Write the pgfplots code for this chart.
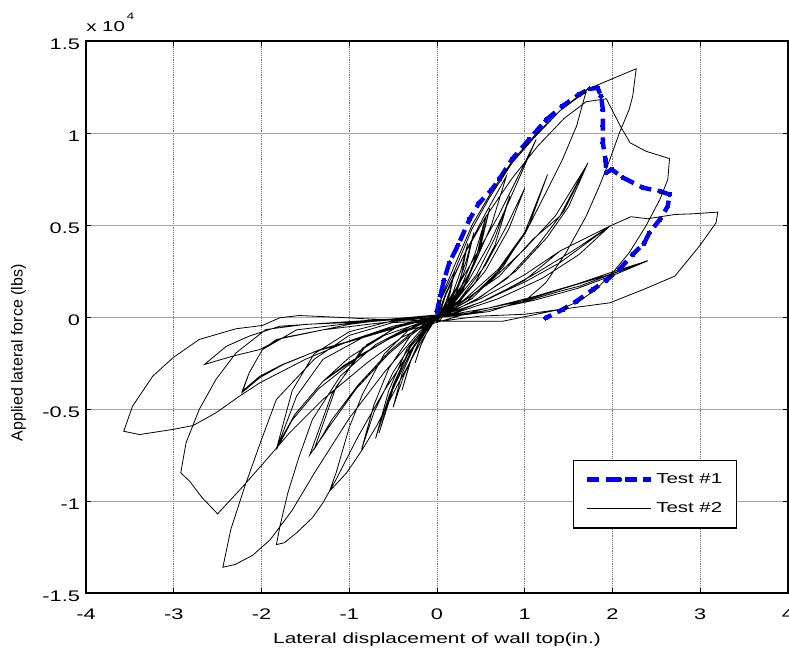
\documentclass[border=0pt]{standalone}
\usepackage{pgfplots}
\pgfplotsset{compat=1.18}
\usepackage{fontspec}
\setmainfont{Liberation Sans}[FakeStretch=1.42]
\newfontfamily\ylabfont{Liberation Sans}
\newcommand\tickfont{\fontsize{11.5}{13}\selectfont}
\newcommand\legfont{\fontsize{10.8}{12}\selectfont}
\definecolor{mblue}{RGB}{0,0,255}

\begin{document}
\begin{tikzpicture}
\begin{axis}[
    scale only axis,
    width=526.5pt, height=414pt,
    xmin=-4, xmax=4, ymin=-15000, ymax=15000,
    xtick={-4,-3,-2,-1,0,1,2,3,4},
    xticklabels={-4,-3,-2,-1,0,1,2,3,4},
    ytick={-15000,-10000,-5000,0,5000,10000,15000},
    yticklabels={-1.5,-1,-0.5,0,0.5,1,1.5},
    scaled y ticks=false,
    tick align=inside,
    major tick length=4pt,
    tick style={black, line width=0.6pt},
    axis line style={black, line width=0.9pt},
    grid=major,
    x grid style={black!55, densely dotted, line width=0.5pt},
    y grid style={black!35, line width=0.6pt},
    tick label style={font=\tickfont},
    xticklabel style={yshift=-8.5pt},
    yticklabel style={yshift=-2.5pt, xshift=-1pt},
    xlabel={Lateral displacement of wall top(in.)},
    ylabel={Applied lateral force (lbs)},
    every axis x label/.style={at={(axis description cs:0.5,0)}, anchor=north, yshift=-30pt, inner sep=0pt, font=\fontsize{11}{13}\selectfont},
    every axis y label/.style={at={(axis description cs:-0.085,0.435)}, rotate=90, anchor=south, inner sep=0pt, font=\ylabfont\fontsize{12}{14}\selectfont},
    legend style={at={(axis cs:3.424,-7745)}, anchor=north east, draw=black, line width=0.8pt, fill=white,
        inner xsep=9pt, inner ysep=8pt, row sep=9pt, font=\legfont, cells={anchor=west}},
    legend image code/.code={\draw[mark repeat=2,mark phase=2,#1] plot coordinates {(0pt,0pt) (24pt,0pt) (48pt,0pt)};},
]

% Test #1 (backbone)
\addplot[mblue, line width=3.3pt, dash pattern=on 9pt off 5pt, mark=*, mark size=1.6pt,
    mark options={solid, fill=mblue, draw=mblue, line width=0pt}] coordinates {
(0.00,300) (0.04,1200) (0.08,2000) (0.14,2950) (0.24,3900) (0.37,5300) (0.48,6200)
(0.62,6900) (0.71,7500) (0.86,8600) (1.05,9650) (1.24,10700) (1.43,11460) (1.62,12100)
(1.74,12400) (1.83,12450) (1.87,12000) (1.89,11280) (1.89,10400) (1.89,9470) (1.92,8560)
(1.93,7840) (1.99,8020) (2.12,7570) (2.35,7020) (2.54,6840) (2.65,6660) (2.63,6020)
(2.54,5300) (2.42,4580) (2.36,4000) (2.23,3400) (2.08,2600) (1.93,2000) (1.78,1500)
(1.59,860) (1.43,400) (1.24,-50)
};
\addlegendentry{Test \#1}

% Test #2 (cyclic)
\addplot[black, line width=0.6pt, mark=none] coordinates {
(0,0) (0.05,300) (0.10,800) (0.15,1500) (0.20,2500) (0.15,1300) (0.10,600) (0.03,100) (-0.05,-300) (-0.12,-900) (-0.19,-1600) (-0.25,-2500) (-0.18,-1500) (-0.10,-700) (0,0)
(0.08,500) (0.18,1300) (0.27,2500) (0.35,4000) (0.27,2100) (0.17,1000) (0.06,200) (-0.08,-400) (-0.20,-1300) (-0.31,-2500) (-0.40,-4000) (-0.30,-2400) (-0.18,-1100) (-0.05,-200) (0.02,100)
(0.10,500) (0.22,1500) (0.33,3000) (0.42,4600) (0.33,2700) (0.20,1100) (0.05,100) (-0.10,-500) (-0.25,-1500) (-0.40,-3100) (-0.50,-4900) (-0.38,-3200) (-0.22,-1500) (-0.06,-300) (0,0)
(0.12,600) (0.28,1700) (0.43,3400) (0.56,5480) (0.44,3100) (0.28,1400) (0.10,300) (-0.10,-500) (-0.30,-1600) (-0.50,-3700) (-0.66,-6300) (-0.50,-3900) (-0.30,-1900) (-0.10,-500) (-0.04,-250)
(0.15,600) (0.32,1800) (0.48,3700) (0.60,5900) (0.48,3500) (0.30,1500) (0.12,300) (-0.12,-500) (-0.34,-1700) (-0.55,-4000) (-0.70,-6600) (-0.54,-4200) (-0.33,-2000) (-0.12,-600) (0,0)
(0.20,800) (0.45,2300) (0.66,4300) (0.83,6570) (0.66,3900) (0.44,1900) (0.18,500) (-0.05,-100) (-0.30,-1000) (-0.55,-2800) (-0.72,-4800) (-0.86,-7200) (-0.72,-5200) (-0.50,-3000) (-0.25,-1200) (0.03,150)
(0.10,1200) (0.30,3300) (0.55,5600) (0.79,7650) (0.62,5000) (0.42,2800) (0.20,1000) (0.04,-150) (-0.40,-400) (-0.80,-1500) (-1.15,-3800) (-1.40,-7200) (-1.20,-5600) (-0.90,-3700) (-0.55,-1900) (-0.25,-700) (0,0)
(0.25,900) (0.55,2800) (0.80,5000) (1.00,7000) (0.82,4800) (0.55,2500) (0.25,800) (0,0) (-0.45,-500) (-0.85,-1700) (-1.20,-4200) (-1.45,-7500) (-1.22,-5900) (-0.92,-3900) (-0.55,-2000) (-0.25,-800) (0,0)
(0.30,900) (0.70,2600) (1.00,4600) (1.26,7740) (1.05,5000) (0.75,2700) (0.40,1000) (0.10,200) (-0.30,-300) (-0.80,-1000) (-1.30,-2300) (-1.60,-4300) (-1.83,-7200) (-1.65,-5600) (-1.35,-3900) (-0.90,-2200) (-0.45,-900) (-0.06,-350)
(0.15,1000) (0.40,3000) (0.70,5500) (0.92,7600) (1.13,9650) (0.98,8020) (0.83,6390) (0.60,4000) (0.35,1900) (0.10,400) (0.05,250) (-0.30,-600) (-0.60,-2000) (-0.85,-4200) (-1.00,-6000) (-1.15,-8470) (-1.225,-9470) (-1.03,-8470) (-0.85,-7200) (-0.69,-5940) (-0.45,-3700) (-0.20,-1500) (0,0)
(0.03,410) (0.33,950) (0.71,2220) (1.09,4210) (1.40,5480) (1.72,8380) (1.50,6000) (1.25,4300) (0.90,2500) (0.50,1100) (0.10,100) (-0.50,-100) (-1.00,-400) (-1.50,-900) (-1.83,-1220) (-1.99,-1770) (-2.14,-3030) (-2.22,-4030) (-2.02,-3220) (-1.76,-2580) (-1.40,-1900) (-0.90,-1200) (-0.40,-500) (0,0)
(0.20,500) (0.60,1900) (1.00,3700) (1.35,5500) (1.70,8200) (1.45,5800) (1.15,3900) (0.80,2100) (0.40,800) (0,0) (-0.50,-200) (-1.00,-800) (-1.40,-2000) (-1.65,-4000) (-1.82,-7000) (-1.62,-5300) (-1.30,-3500) (-0.85,-2000) (-0.40,-800) (0,0)
(0.05,1000) (0.20,2500) (0.40,4800) (0.60,6500) (0.86,8400) (1.10,9700) (1.40,11200) (1.70,12270) (1.59,10370) (1.43,8560) (1.24,6750) (1.00,4500) (0.70,2500) (0.35,900) (-0.05,-300) (-0.30,-500) (-0.70,-1500) (-1.10,-3200) (-1.42,-5570) (-1.57,-7570) (-1.70,-9560) (-1.79,-11370) (-1.83,-12370) (-1.74,-12270) (-1.60,-11730) (-1.42,-10910) (-1.30,-10100) (-1.15,-8830) (-0.90,-6500) (-0.60,-4000) (-0.30,-1800) (0,0)
(0.50,800) (1.00,1900) (1.40,2950) (1.97,4940) (1.62,3400) (1.20,2100) (0.70,1000) (0.20,200) (-0.50,-100) (-1.00,-250) (-1.79,-500) (-2.14,-1040) (-2.40,-1590) (-2.65,-2580) (-2.33,-2130) (-2.02,-1770) (-1.76,-1130) (-1.30,-700) (-0.70,-350) (0,0)
(0.50,1000) (1.00,2300) (1.40,3580) (1.97,4940) (1.55,3600) (1.10,2300) (0.60,1000) (0.15,150) (-0.50,-150) (-1.00,-350) (-1.60,-700) (-1.99,-1770) (-2.14,-3030) (-2.22,-4100) (-2.02,-3300) (-1.76,-2600) (-1.35,-1800) (-0.85,-1100) (-0.40,-450) (0,0)
(0.10,1300) (0.30,3300) (0.55,5400) (0.85,7500) (1.15,9300) (1.45,10800) (1.70,11700) (1.93,11860) (2.09,10370) (2.20,9470) (2.38,9010) (2.65,8610) (2.63,7470) (2.54,6390) (2.38,4940) (2.19,3490) (2.00,2400) (1.81,1490) (1.62,860) (1.40,410) (1.00,150) (0.50,50) (0.08,-200) (-0.50,-300) (-1.00,-1000) (-1.40,-2300) (-1.83,-4480) (-2.00,-6660) (-2.19,-9200) (-2.35,-11550) (-2.44,-13600) (-2.30,-13450) (-2.10,-12950) (-1.90,-12100) (-1.65,-10500) (-1.40,-8500) (-1.00,-5500) (-0.60,-3000) (-0.20,-800) (0,0)
(0.05,1100) (0.20,2800) (0.40,5000) (0.62,6800) (0.86,8500) (1.10,9800) (1.40,11200) (1.70,12350) (1.95,12850) (2.27,13490) (2.23,12000) (2.19,11280) (2.08,10020) (1.97,8560) (1.85,7110) (1.70,5480) (1.47,3490) (1.24,1860) (1.02,950) (0.60,300) (0.20,50) (-0.50,-150) (-1.00,-300) (-1.50,-400) (-1.95,-680) (-2.29,-1950) (-2.52,-3400) (-2.71,-5030) (-2.86,-6840) (-2.92,-8470) (-2.82,-8920) (-2.68,-9800) (-2.50,-10700) (-2.21,-9200) (-1.91,-7570) (-1.68,-6290) (-1.30,-4480) (-0.80,-2500) (-0.40,-1100) (-0.08,-400)
(0.50,400) (1.00,900) (1.40,1490) (1.97,2310) (2.40,3070) (2.08,2490) (1.62,1670) (1.40,1400) (0.90,700) (0.40,200) (0,0) (-0.60,-1000) (-1.00,-2200) (-1.30,-3500) (-1.05,-2600) (-0.55,-1200) (0,0)
(0.60,500) (1.10,1100) (1.60,1800) (2.00,2450) (2.40,3050) (2.05,2350) (1.60,1550) (1.10,900) (0.50,300) (0,0)
(0.50,800) (1.00,2000) (1.40,3580) (1.97,4940) (2.21,5450) (2.40,5340) (2.71,5570) (2.92,5610) (3.20,5700) (3.18,5120) (2.99,3850) (2.71,2220) (2.35,1490) (1.97,770) (1.40,410) (0.75,-230) (0,-230) (-0.80,-100) (-1.20,0) (-1.57,80) (-1.79,-40) (-1.99,-460) (-2.29,-640) (-2.71,-1220) (-3.01,-2220) (-3.24,-3220) (-3.47,-4850) (-3.57,-6210) (-3.39,-6390) (-3.01,-6110) (-2.78,-5900) (-2.52,-5210) (-2.25,-4300) (-2.02,-3580) (-1.50,-2300) (-1.00,-1300) (-0.50,-500) (0,0)
};
\addlegendentry{Test \#2}
\end{axis}
\node[anchor=base west, inner sep=0pt, font=\legfont] at ([yshift=6.75pt]current axis.north west)
    {x 10\hspace{1.5pt}\raisebox{9pt}{\fontsize{7}{8}\selectfont 4}};
\pgfresetboundingbox
\path ([shift={(-64.5pt,-45.75pt)}]current axis.south west) rectangle ([shift={(0.75pt,30.75pt)}]current axis.north east);
\end{tikzpicture}
\end{document}
